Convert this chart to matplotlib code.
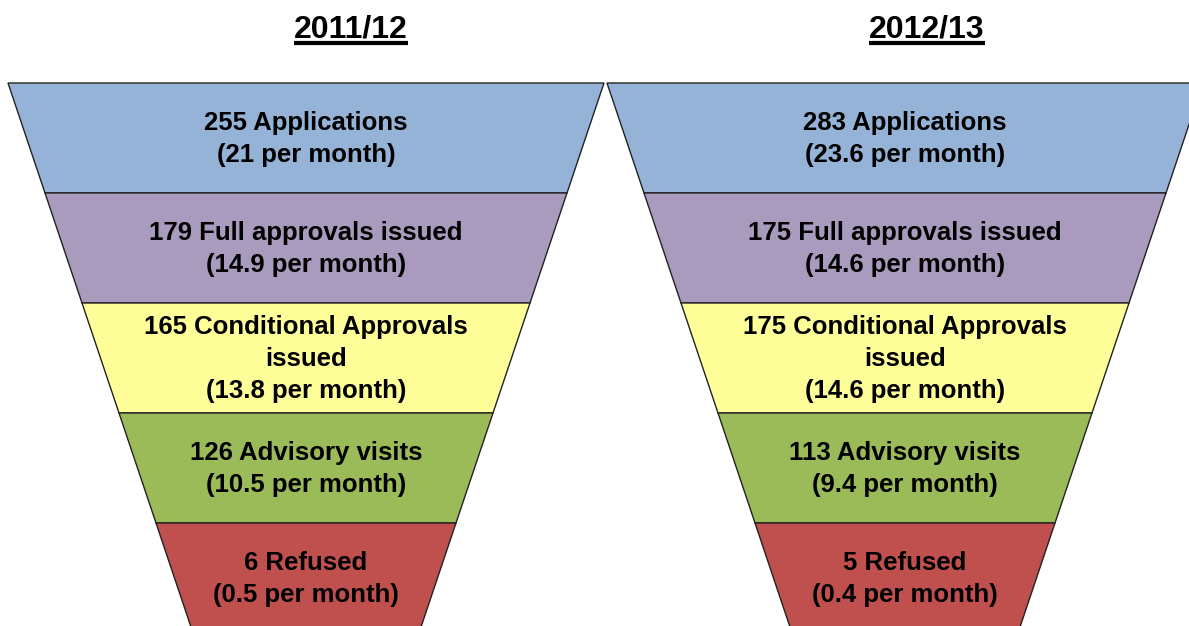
import matplotlib
matplotlib.use("Agg")
from matplotlib import pyplot as plt
from matplotlib.patches import Polygon

years = ["2011/12", "2012/13"]
stages = ["Applications", "Full approvals issued", "Conditional Approvals\nissued",
          "Advisory visits", "Refused"]
counts = {"2011/12": [255, 179, 165, 126, 6], "2012/13": [283, 175, 175, 113, 5]}
per_month = {"2011/12": ["21", "14.9", "13.8", "10.5", "0.5"],
             "2012/13": ["23.6", "14.6", "14.6", "9.4", "0.4"]}
colors = ["#95B3D7", "#A99BBD", "#FFFF99", "#9BBB59", "#C0504D"]

# layout in pixels
W, H = 1189, 626
centers = [306, 905]
title_x = [351, 927]
top_y, band_h = 83, 110
top_half = 298
slope = 37 / 110

plt.rcParams["font.family"] = ["Liberation Sans", "DejaVu Sans"]
fig = plt.figure(figsize=(W / 100, H / 100), dpi=100)
ax = fig.add_axes([0, 0, 1, 1])
ax.set_xlim(0, W)
ax.set_ylim(H, 0)
ax.axis("off")

for k, year in enumerate(years):
    cx = centers[k]
    for i, stage in enumerate(stages):
        y0 = top_y + i * band_h
        y1 = y0 + band_h
        h0 = top_half - slope * (y0 - top_y)
        h1 = top_half - slope * (y1 - top_y)
        poly = Polygon([(cx - h0, y0), (cx + h0, y0), (cx + h1, y1), (cx - h1, y1)],
                       closed=True, facecolor=colors[i], edgecolor="#222222", lw=1.0)
        ax.add_patch(poly)
        label = f"{counts[year][i]} {stage}\n({per_month[year][i]} per month)"
        ax.text(cx, (y0 + y1) / 2 + 1, label, ha="center", va="center",
                fontsize=18.5, fontweight="bold", linespacing=1.42, color="#000000")
    t = ax.text(title_x[k], 30, year, ha="center", va="center", fontsize=23,
                fontweight="bold")
    fig.canvas.draw()
    bb = t.get_window_extent().transformed(ax.transData.inverted())
    ax.plot([bb.x0, bb.x1], [43, 43], color="black", lw=3.0, solid_capstyle="butt")

fig.savefig("out.png", dpi=100)
